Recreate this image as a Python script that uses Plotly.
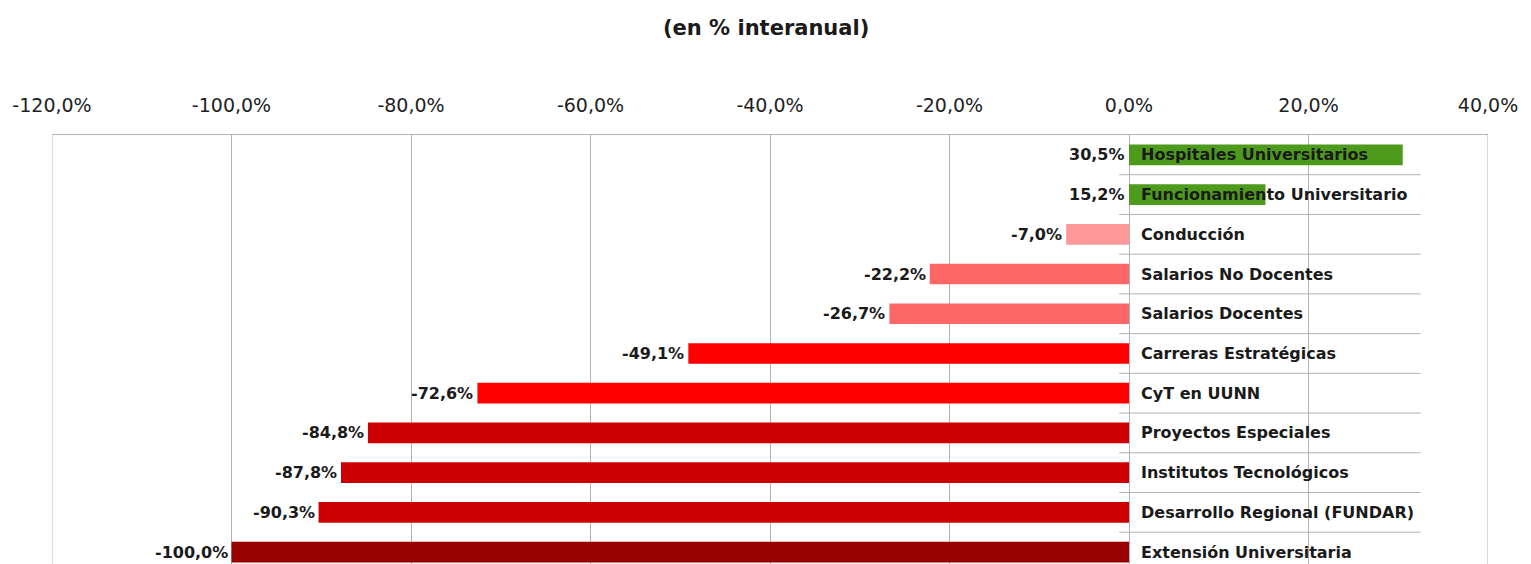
import plotly.graph_objects as go

categories = ["Hospitales Universitarios", "Funcionamiento Universitario", "Conducción",
              "Salarios No Docentes", "Salarios Docentes", "Carreras Estratégicas",
              "CyT en UUNN", "Proyectos Especiales", "Institutos Tecnológicos",
              "Desarrollo Regional (FUNDAR)", "Extensión Universitaria"]
values = [30.5, 15.2, -7.0, -22.2, -26.7, -49.1, -72.6, -84.8, -87.8, -90.3, -100.0]
colors = ["#4E9A1C", "#4E9A1C", "#FF9999", "#FF6666", "#FF6666", "#FF0000",
          "#FF0000", "#CC0000", "#CC0000", "#CC0000", "#990000"]
tick_vals = [-120, -100, -80, -60, -40, -20, 0, 20, 40]
tick_text = ["-120,0%", "-100,0%", "-80,0%", "-60,0%", "-40,0%", "-20,0%", "0,0%", "20,0%", "40,0%"]

FONT = "DejaVu Sans, Arial, sans-serif"
fig = go.Figure()
fig.add_trace(go.Bar(x=values, y=list(range(len(categories))), orientation="h",
                     marker=dict(color=colors, line=dict(width=0)), width=0.52,
                     hoverinfo="skip"))

annotations = []
for i, (c, v) in enumerate(zip(categories, values)):
    annotations.append(dict(x=min(v, 0), y=i, xref="x", yref="y", text=f"{v:.1f}%".replace(".", ","),
                            showarrow=False, xanchor="right", yanchor="middle", xshift=-2,
                            font=dict(family=FONT, size=16, color="#1a1a1a", weight="bold")))
    annotations.append(dict(x=0, y=i, xref="x", yref="y", text=c, showarrow=False,
                            xanchor="left", yanchor="middle", xshift=10,
                            font=dict(family=FONT, size=16, color="#1a1a1a", weight="bold")))
annotations.append(dict(x=0.5, y=1, xref="paper", yref="paper", text="(en % interanual)",
                        showarrow=False, yanchor="middle", yshift=107, xshift=-4,
                        font=dict(family=FONT, size=21, color="#1a1a1a", weight="bold")))

shapes = []
for i in range(len(categories) - 1):
    shapes.append(dict(type="line", xref="x", yref="y", x0=-1.1, x1=32.5, y0=i + 0.5, y1=i + 0.5,
                       line=dict(color="#b3b3b3", width=1), layer="below"))
shapes.append(dict(type="line", xref="x", yref="paper", x0=40, x1=40, y0=0, y1=1,
                   line=dict(color="#b3b3b3", width=1), layer="below"))
shapes.append(dict(type="line", xref="x", yref="paper", x0=-120, x1=-120, y0=0, y1=1,
                   line=dict(color="#b3b3b3", width=1), layer="below"))

# page body has an 8px margin, so the figure is offset by 8px
fig.update_layout(
    width=1523, height=556,
    margin=dict(l=44, r=43, t=127, b=0, autoexpand=False),
    paper_bgcolor="white", plot_bgcolor="white",
    showlegend=False,
    annotations=annotations, shapes=shapes,
    xaxis=dict(range=[-120, 40], side="top", tickvals=tick_vals, ticktext=tick_text,
               automargin=False,
               showgrid=True, gridcolor="#b3b3b3", gridwidth=1, zeroline=False,
               showline=True, linecolor="#b3b3b3", linewidth=1, ticks="",
               ticklabelstandoff=14,
               tickfont=dict(family=FONT, size=19, color="#222222")),
    yaxis=dict(range=[10.3, -0.5], showticklabels=False, showgrid=False, zeroline=False,
               showline=False, ticks="", automargin=False),
)
fig.write_html("out.html")
